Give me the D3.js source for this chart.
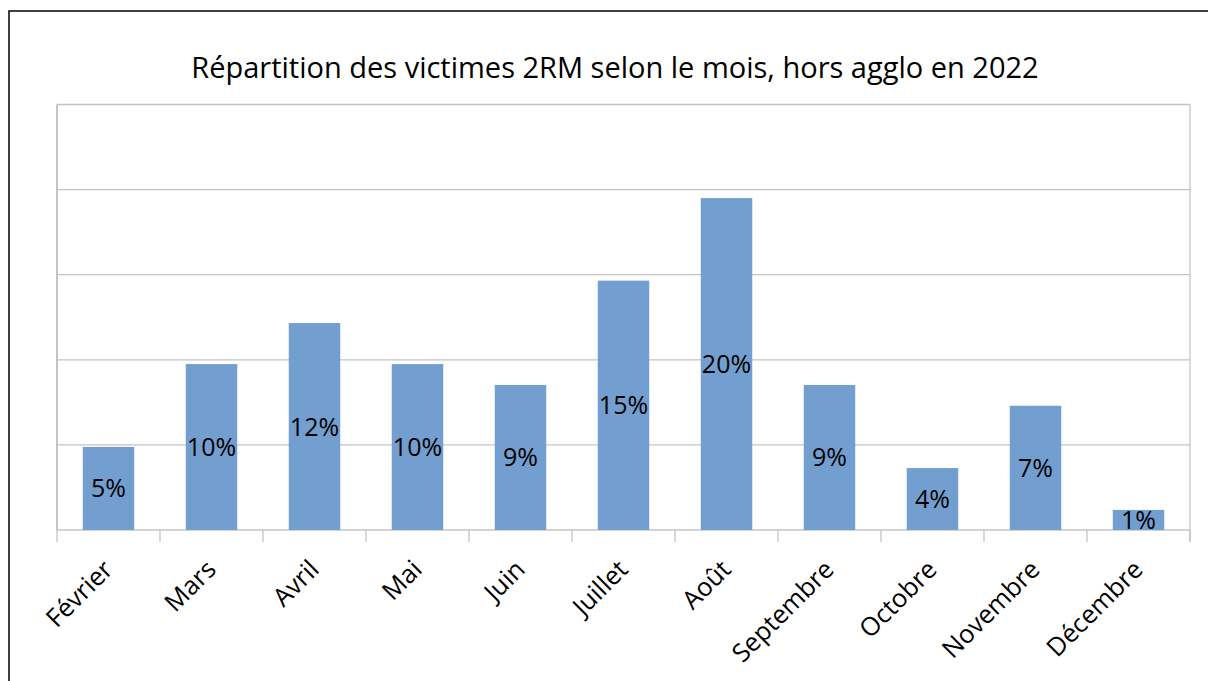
<!DOCTYPE html>
<html><head><meta charset="utf-8">
<script src="https://cdn.jsdelivr.net/npm/d3@7"></script>
<style>body{margin:0;background:#fff}svg{display:block}text{font-family:"Open Sans",sans-serif}</style>
</head><body><svg id="c" width="1208" height="681"></svg>
<script>
const months = ["Février","Mars","Avril","Mai","Juin","Juillet","Août","Septembre","Octobre","Novembre","Décembre"];
const values = [4.88,9.75,12.16,9.75,8.52,14.65,19.5,8.52,3.64,7.3,1.18];
const labels = ["5%","10%","12%","10%","9%","15%","20%","9%","4%","7%","1%"];
const yTicks = [0,5,10,15,20,25];
const title = "Répartition des victimes 2RM selon le mois, hors agglo en 2022";

const svg = d3.select("#c");
const L=57, R=1190, T=104.5, B=530;
svg.append("rect").attr("x",9).attr("y",11).attr("width",1300).attr("height",800)
  .attr("fill","none").attr("stroke","#000").attr("stroke-width",1.5);
const x = d3.scaleBand().domain(months).range([L,R]).paddingInner(0.5).paddingOuter(0.25);
const y = d3.scaleLinear().domain([0,25]).range([B,T]);

svg.append("g").selectAll("line").data(yTicks).join("line")
  .attr("x1",L).attr("x2",R).attr("y1",d=>y(d)).attr("y2",d=>y(d))
  .attr("stroke","#c4c4c4").attr("stroke-width",1.3);
svg.append("line").attr("x1",L).attr("x2",L).attr("y1",T).attr("y2",B).attr("stroke","#c4c4c4").attr("stroke-width",2);
svg.append("line").attr("x1",R).attr("x2",R).attr("y1",T).attr("y2",B+12).attr("stroke","#c4c4c4").attr("stroke-width",1.3);

const bounds = d3.range(months.length+1).map(i=>L+i*(R-L)/months.length);
svg.append("g").selectAll("line").data(bounds).join("line")
  .attr("x1",d=>d).attr("x2",d=>d).attr("y1",B).attr("y2",B+12)
  .attr("stroke","#c4c4c4").attr("stroke-width",1.3);

svg.append("g").selectAll("rect").data(months).join("rect")
  .attr("x",d=>x(d)).attr("width",x.bandwidth())
  .attr("y",(d,i)=>y(values[i])).attr("height",(d,i)=>B-y(values[i]))
  .attr("fill","#729fcf");

svg.append("g").selectAll("text").data(months).join("text")
  .attr("x",d=>x(d)+x.bandwidth()/2)
  .attr("y",(d,i)=>(y(values[i])+B)/2)
  .attr("dy","0.36em").attr("text-anchor","middle")
  .attr("font-size",25).attr("fill","#000")
  .text((d,i)=>labels[i]);

svg.append("g").selectAll("text").data(months).join("text")
  .attr("transform",d=>`translate(${x(d)+x.bandwidth()/2+6},${B+41}) rotate(-45)`)
  .attr("text-anchor","end").attr("font-size",25.5).attr("fill","#000")
  .text(d=>d);

svg.append("text").attr("x",615).attr("y",78).attr("text-anchor","middle")
  .attr("font-size",29).attr("fill","#000").text(title);
</script></body></html>
